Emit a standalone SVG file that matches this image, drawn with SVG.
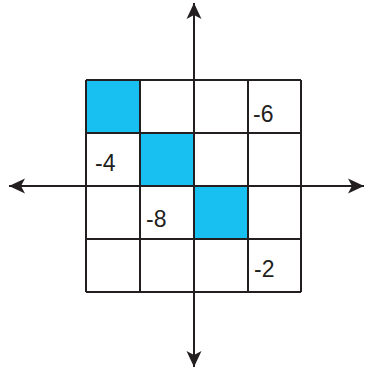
<svg xmlns="http://www.w3.org/2000/svg" width="365" height="370" viewBox="0 0 365 370">
<style>
.fill{fill:#17C0F0}
.axis{stroke:#231F20;stroke-width:2;fill:none}
.lbl{font-family:"Liberation Sans",Arial,sans-serif;font-size:23px;fill:#231F20}
</style>
<defs>
<marker id="ah" markerUnits="userSpaceOnUse" markerWidth="20" markerHeight="20" viewBox="-18 -9 20 18" refX="0" refY="0" orient="auto">
<path d="M0,0 L-16,-7.5 L-12,0 L-16,7.5 Z" fill="#231F20"/>
</marker>
</defs>
<g id="grid">
<rect x="86" y="80" width="215" height="212" fill="#FFFFFF"/>
<rect class="fill" x="86" y="80" width="54" height="53"/>
<rect class="fill" x="140" y="133" width="54" height="53"/>
<rect class="fill" x="194" y="186" width="54" height="53"/>
<g class="axis">
<line x1="86" y1="80" x2="301" y2="80"/>
<line x1="86" y1="133" x2="301" y2="133"/>
<line x1="86" y1="186" x2="301" y2="186"/>
<line x1="86" y1="239" x2="301" y2="239"/>
<line x1="86" y1="292" x2="301" y2="292"/>
<line x1="86" y1="80" x2="86" y2="292"/>
<line x1="140" y1="80" x2="140" y2="292"/>
<line x1="194" y1="80" x2="194" y2="292"/>
<line x1="248" y1="80" x2="248" y2="292"/>
<line x1="301" y1="80" x2="301" y2="292"/>
</g>
</g>
<g id="axes">
<line class="axis" x1="40" y1="186" x2="9" y2="186" marker-end="url(#ah)"/>
<line class="axis" x1="40" y1="186" x2="364" y2="186" marker-end="url(#ah)"/>
<line class="axis" x1="194" y1="186" x2="194" y2="3" marker-end="url(#ah)"/>
<line class="axis" x1="194" y1="186" x2="194" y2="367" marker-end="url(#ah)"/>
</g>
<g id="labels">
<text class="lbl" x="253" y="122">-6</text>
<text class="lbl" x="95" y="171">-4</text>
<text class="lbl" x="146" y="227">-8</text>
<text class="lbl" x="254" y="277">-2</text>
</g>
</svg>
